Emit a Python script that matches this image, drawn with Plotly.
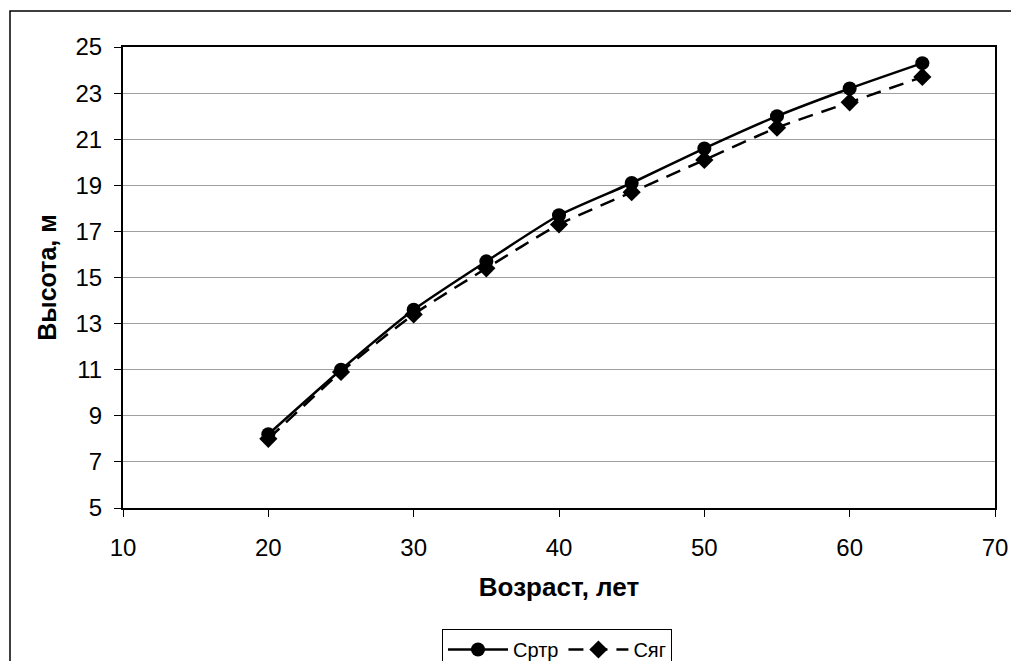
import plotly.graph_objects as go

ages = [20, 25, 30, 35, 40, 45, 50, 55, 60, 65]
srtr = [8.2, 11.0, 13.6, 15.7, 17.7, 19.1, 20.6, 22.0, 23.2, 24.3]
syag = [8.0, 10.9, 13.4, 15.4, 17.3, 18.7, 20.1, 21.5, 22.6, 23.7]
y_ticks = [5, 7, 9, 11, 13, 15, 17, 19, 21, 23, 25]
x_ticks = [10, 20, 30, 40, 50, 60, 70]

W, H = 1011, 661
L, R, T, B = 123, 995, 47, 508
pw, ph = R - L, B - T

def px(xp):
    return (xp - L) / pw

def py(yp):
    return (B - yp) / ph

fig = go.Figure()
fig.add_trace(go.Scatter(
    x=ages, y=srtr, name="Сртр", mode="lines+markers",
    line=dict(color="black", width=2.5, shape="spline", smoothing=0.6),
    marker=dict(symbol="circle", size=14, color="black"),
))
fig.add_trace(go.Scatter(
    x=ages, y=syag, name="Сяг", mode="lines+markers",
    line=dict(color="black", width=2.5, dash="15px,9px", shape="spline", smoothing=0.6),
    marker=dict(symbol="diamond", size=14, color="black"),
))

fig.update_layout(
    width=W, height=H,
    margin=dict(l=L, r=W - R, t=T, b=H - B, autoexpand=False),
    paper_bgcolor="white", plot_bgcolor="white",
    font=dict(family="Arial, Liberation Sans, sans-serif", size=24, color="black"),
    showlegend=True,
    legend=dict(
        orientation="h", xref="container", yref="container",
        x=557 / W, xanchor="center", y=1 - 629 / H, yanchor="top",
        bordercolor="black", borderwidth=1, bgcolor="white",
        font=dict(size=20), itemwidth=60, tracegroupgap=0,
    ),
    xaxis=dict(
        range=[10, 70], tickvals=x_ticks, ticks="outside", ticklen=7, tickcolor="black",
        ticklabelstandoff=10,
        showgrid=False, zeroline=False, showline=True, linecolor="black", linewidth=2,
        mirror=True, automargin=False,
        title=dict(text="<b>Возраст, лет</b>", font=dict(size=26), standoff=18),
    ),
    yaxis=dict(
        range=[5, 25], tickvals=y_ticks, ticks="outside", ticklen=7, tickcolor="black",
        ticklabelstandoff=7,
        showgrid=True, gridcolor="#a0a0a0", gridwidth=1, zeroline=False,
        showline=True, linecolor="black", linewidth=2, mirror=True, automargin=False,
        title=dict(text="<b>Высота, м</b>", font=dict(size=25), standoff=12),
    ),
    shapes=[dict(
        type="rect", xref="paper", yref="paper",
        x0=px(10), x1=px(1030), y0=py(700), y1=py(11),
        line=dict(color="black", width=1.5), fillcolor="rgba(0,0,0,0)", layer="below",
    )],
)

fig.write_html("out.html")
